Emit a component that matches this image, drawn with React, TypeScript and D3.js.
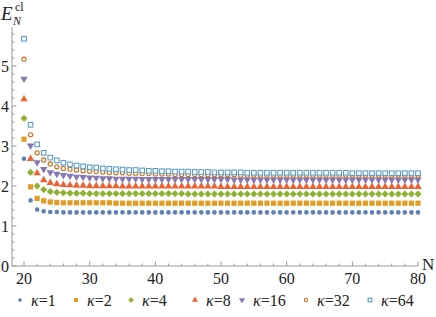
import * as d3 from "d3"

// N values on the x axis
const nValues = d3.range(20, 81)

// E_N^cl, one array per kappa (N = 20..80)
const k1 = [
  2.68, 1.64, 1.41, 1.37, 1.35, 1.35, 1.34, 1.34, 1.34, 1.34,
  1.34, 1.34, 1.34, 1.34, 1.34, 1.34, 1.34, 1.34, 1.34, 1.34,
  1.34, 1.34, 1.34, 1.34, 1.34, 1.34, 1.34, 1.34, 1.34, 1.34,
  1.34, 1.34, 1.34, 1.34, 1.34, 1.34, 1.34, 1.34, 1.34, 1.34,
  1.34, 1.34, 1.34, 1.34, 1.34, 1.34, 1.34, 1.34, 1.34, 1.34,
  1.34, 1.34, 1.34, 1.34, 1.34, 1.34, 1.34, 1.34, 1.34, 1.34,
  1.34,
]
const k2 = [
  3.17, 1.98, 1.69, 1.63, 1.60, 1.59, 1.58, 1.58, 1.58, 1.58,
  1.58, 1.58, 1.58, 1.58, 1.57, 1.57, 1.57, 1.57, 1.57, 1.57,
  1.57, 1.57, 1.57, 1.57, 1.57, 1.57, 1.57, 1.57, 1.57, 1.57,
  1.57, 1.57, 1.57, 1.57, 1.57, 1.57, 1.57, 1.57, 1.57, 1.57,
  1.57, 1.57, 1.57, 1.57, 1.57, 1.57, 1.57, 1.57, 1.57, 1.57,
  1.57, 1.57, 1.57, 1.57, 1.57, 1.57, 1.57, 1.57, 1.57, 1.57,
  1.57,
]
const k4 = [
  3.69, 2.34, 2.00, 1.91, 1.86, 1.84, 1.83, 1.82, 1.82, 1.82,
  1.81, 1.81, 1.81, 1.81, 1.81, 1.81, 1.81, 1.81, 1.81, 1.81,
  1.81, 1.81, 1.81, 1.81, 1.81, 1.80, 1.80, 1.80, 1.80, 1.80,
  1.80, 1.80, 1.80, 1.80, 1.80, 1.80, 1.80, 1.80, 1.80, 1.80,
  1.80, 1.80, 1.80, 1.80, 1.80, 1.80, 1.80, 1.80, 1.80, 1.80,
  1.80, 1.80, 1.80, 1.80, 1.80, 1.80, 1.80, 1.80, 1.80, 1.80,
  1.80,
]
const k8 = [
  4.17, 2.68, 2.32, 2.15, 2.08, 2.05, 2.03, 2.02, 2.01, 2.01,
  2.00, 2.00, 2.00, 2.00, 2.00, 1.99, 1.99, 1.99, 1.99, 1.99,
  1.99, 1.99, 1.99, 1.99, 1.99, 1.99, 1.99, 1.99, 1.99, 1.99,
  1.98, 1.98, 1.98, 1.98, 1.98, 1.98, 1.98, 1.98, 1.98, 1.98,
  1.98, 1.98, 1.98, 1.98, 1.98, 1.98, 1.98, 1.98, 1.98, 1.98,
  1.98, 1.98, 1.98, 1.98, 1.98, 1.98, 1.98, 1.98, 1.98, 1.98,
  1.98,
]
const k16 = [
  4.68, 3.01, 2.59, 2.42, 2.34, 2.30, 2.27, 2.25, 2.23, 2.22,
  2.21, 2.20, 2.19, 2.19, 2.18, 2.18, 2.18, 2.18, 2.17, 2.17,
  2.17, 2.17, 2.17, 2.17, 2.17, 2.17, 2.17, 2.17, 2.17, 2.17,
  2.17, 2.17, 2.16, 2.16, 2.16, 2.16, 2.16, 2.16, 2.16, 2.16,
  2.16, 2.16, 2.16, 2.16, 2.16, 2.16, 2.16, 2.16, 2.16, 2.16,
  2.16, 2.16, 2.16, 2.16, 2.16, 2.16, 2.16, 2.16, 2.16, 2.16,
  2.16,
]
const k32 = [
  5.17, 3.28, 2.83, 2.65, 2.55, 2.48, 2.44, 2.42, 2.40, 2.38,
  2.37, 2.36, 2.35, 2.34, 2.33, 2.33, 2.32, 2.32, 2.31, 2.31,
  2.30, 2.30, 2.30, 2.29, 2.29, 2.29, 2.29, 2.28, 2.28, 2.28,
  2.28, 2.28, 2.28, 2.27, 2.27, 2.27, 2.27, 2.27, 2.27, 2.27,
  2.27, 2.27, 2.27, 2.27, 2.27, 2.27, 2.27, 2.27, 2.27, 2.27,
  2.27, 2.27, 2.27, 2.27, 2.27, 2.27, 2.27, 2.27, 2.27, 2.27,
  2.27,
]
const k64 = [
  5.68, 3.53, 3.04, 2.83, 2.71, 2.64, 2.58, 2.54, 2.51, 2.49,
  2.47, 2.46, 2.44, 2.43, 2.42, 2.41, 2.40, 2.40, 2.39, 2.38,
  2.38, 2.37, 2.37, 2.36, 2.36, 2.36, 2.35, 2.35, 2.35, 2.34,
  2.34, 2.34, 2.34, 2.34, 2.33, 2.33, 2.33, 2.33, 2.33, 2.33,
  2.33, 2.33, 2.33, 2.33, 2.33, 2.33, 2.33, 2.33, 2.33, 2.33,
  2.32, 2.32, 2.32, 2.32, 2.32, 2.32, 2.32, 2.32, 2.32, 2.32,
  2.32,
]

const kappaLabels = ["1", "2", "4", "8", "16", "32", "64"]
const xTicks = [20, 30, 40, 50, 60, 70, 80]
const yTicks = [0, 1, 2, 3, 4, 5]

type Marker = "dot" | "square" | "diamond" | "up" | "down" | "ring" | "box"

interface Series {
  label: string
  values: number[]
  color: string
  marker: Marker
}

const series: Series[] = [
  { label: kappaLabels[0], values: k1, color: "#5E81B5", marker: "dot" },
  { label: kappaLabels[1], values: k2, color: "#E19C24", marker: "square" },
  { label: kappaLabels[2], values: k4, color: "#8FB032", marker: "diamond" },
  { label: kappaLabels[3], values: k8, color: "#EB6235", marker: "up" },
  { label: kappaLabels[4], values: k16, color: "#8778B3", marker: "down" },
  { label: kappaLabels[5], values: k32, color: "#C56E1A", marker: "ring" },
  { label: kappaLabels[6], values: k64, color: "#5D9EC7", marker: "box" },
]

const font = "'Liberation Serif', 'DejaVu Serif', serif"

function MarkerShape({ m, color, x, y, scale = 1 }: { m: Marker; color: string; x: number; y: number; scale?: number }) {
  const t = `translate(${x},${y})`
  switch (m) {
    case "dot":
      return <circle cx={x} cy={y} r={2.3 * scale} fill={color} />
    case "square":
      return <rect x={x - 2.6 * scale} y={y - 2.6 * scale} width={5.2 * scale} height={5.2 * scale} fill={color} />
    case "diamond":
      // square turned by 45 degrees, with a little stroke so it reads as the rounded diamond
      return <path transform={`${t} rotate(45)`} d={d3.symbol(d3.symbolSquare, 16 * scale * scale)()!} fill={color} stroke={color} strokeWidth={1} strokeLinejoin="round" />
    case "up":
      return <path transform={t} d={d3.symbol(d3.symbolTriangle, 24 * scale * scale)()!} fill={color} />
    case "down":
      return <path transform={`${t} rotate(180)`} d={d3.symbol(d3.symbolTriangle, 24 * scale * scale)()!} fill={color} />
    case "ring":
      return <circle cx={x} cy={y} r={2.1 * scale} fill="white" stroke={color} strokeWidth={1.1} />
    case "box":
      return <rect x={x - 2.3 * scale} y={y - 2.3 * scale} width={4.6 * scale} height={4.6 * scale} fill="white" stroke={color} strokeWidth={1.1} />
  }
}

export default function App() {
  const width = 436
  const height = 317
  const x = d3.scaleLinear().domain([20, 80]).range([24, 418])
  const y = d3.scaleLinear().domain([0, 5]).range([266, 66])
  const axisX0 = 12
  const axisY0 = y(0)

  const xMinor = d3.range(20, 81, 2)
  const yMinor = d3.range(0, 5.95, 0.2)

  const legendX = [20, 76, 131, 195, 242, 306, 370]

  return (
    <svg width={width} height={height} style={{ position: "absolute", left: 0, top: 0, background: "white" }} fontFamily={font}>
      {/* axes */}
      <line x1={axisX0} x2={418} y1={axisY0} y2={axisY0} stroke="#999" strokeWidth={1} />
      <line x1={axisX0} x2={axisX0} y1={axisY0} y2={y(5.97)} stroke="#999" strokeWidth={1} />
      {xMinor.map((v) => (
        <line key={"xm" + v} x1={x(v)} x2={x(v)} y1={axisY0} y2={axisY0 - (v % 10 === 0 ? 4.5 : 2.5)} stroke="#999" />
      ))}
      {yMinor.map((v, i) => (
        <line key={"ym" + i} x1={axisX0} x2={axisX0 + (i % 5 === 0 ? 4.5 : 2.5)} y1={y(v)} y2={y(v)} stroke="#999" />
      ))}
      {xTicks.map((v) => (
        <text key={"xt" + v} x={x(v)} y={284} textAnchor="middle" fontSize={16} fill="#222">
          {v}
        </text>
      ))}
      {yTicks.map((v) => (
        <text key={"yt" + v} x={9} y={y(v) + 5.5} textAnchor="end" fontSize={16} fill="#222">
          {v}
        </text>
      ))}

      {/* axis labels */}
      <text x={1} y={20} fontSize={19} fontStyle="italic" fill="#222">E</text>
      <text x={13} y={25} fontSize={12} fontStyle="italic" fill="#222">N</text>
      <text x={15} y={11} fontSize={12} fill="#222">cl</text>
      <text x={422} y={270} fontSize={17} fill="#222">N</text>

      {/* points */}
      {series.map((s) =>
        s.values.map((v, i) => (
          <MarkerShape key={s.label + "-" + i} m={s.marker} color={s.color} x={x(nValues[i])} y={y(v)} />
        ))
      )}

      {/* legend */}
      {series.map((s, i) => (
        <g key={"lg" + s.label}>
          <MarkerShape m={s.marker} color={s.color} x={legendX[i]} y={300} scale={0.8} />
          <text x={legendX[i] + 11} y={305.5} fontSize={16} fill="#222">
            <tspan fontStyle="italic">κ</tspan>=<tspan>{s.label}</tspan>
          </text>
        </g>
      ))}
    </svg>
  )
}
